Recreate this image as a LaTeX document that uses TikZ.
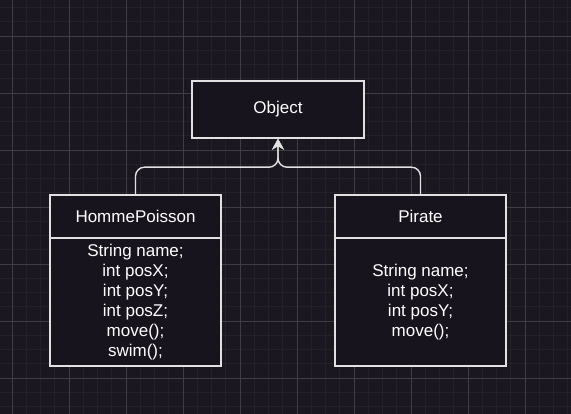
\documentclass[tikz,border=0pt]{standalone}
\usepackage{fontspec}
\setmainfont{Liberation Sans}
\usepackage{xcolor}
\usepackage{tikz}
\usetikzlibrary{positioning,arrows.meta}
\definecolor{canvasbg}{RGB}{26,23,32}
\definecolor{gridminor}{RGB}{36,33,41}
\definecolor{gridmajor}{RGB}{62,61,68}
\definecolor{boxfill}{RGB}{24,20,29}
\definecolor{boxline}{RGB}{225,225,225}

\begin{document}
\begin{tikzpicture}[x=1pt ,y=-1pt ,node distance = 107pt and 142.5pt ,on grid ,cls/.style ={ rectangle ,draw=boxline ,fill=boxfill ,line width=1.4pt ,text=white ,minimum width=171pt ,font=\fontsize{17}{20}\selectfont ,align=center ,inner sep=0pt}, head/.style ={cls ,minimum height=43pt}, body/.style ={cls ,minimum height=128pt}, inherit/.style ={draw=boxline ,line width=1.4pt ,rounded corners=9pt ,-{Stealth[length=11pt,width=12pt]}}]
\useasboundingbox (0,0) rectangle (571,414);
\clip (0,0) rectangle (571,414);
\fill[canvasbg] (0,0) rectangle (571,414);
\foreach \x in {12,26.25,...,580} \draw[gridminor, line width=0.7pt] (\x,0) -- (\x,414);
\foreach \y in {7.5,21.75,...,420} \draw[gridminor, line width=0.7pt] (0,\y) -- (571,\y);
\foreach \x in {12,69,...,580} \draw[gridmajor, line width=0.8pt] (\x,0) -- (\x,414);
\foreach \y in {36,93,...,420} \draw[gridmajor, line width=0.8pt] (0,\y) -- (571,\y);
\node[cls, minimum width=172pt, minimum height=57pt] (obj) at (278,109.5) {Object};
\node[head] (hpHead) [below left = of obj] {HommePoisson};
\node[body] (hpBody) [below = 85.5pt of hpHead] {String name;\\int posX;\\int posY;\\int posZ;\\move();\\swim();};
\node[head] (prHead) [below right = of obj] {Pirate};
\node[body] (prBody) [below = 85.5pt of prHead] {String name;\\int posX;\\int posY;\\move();};
\coordinate[below = 28.5pt of obj.south] (join);
\draw[inherit] (hpHead.north) |- (join) -- (obj.south);
\draw[inherit] (prHead.north) |- (join) -- (obj.south);
\end{tikzpicture}
\end{document}
